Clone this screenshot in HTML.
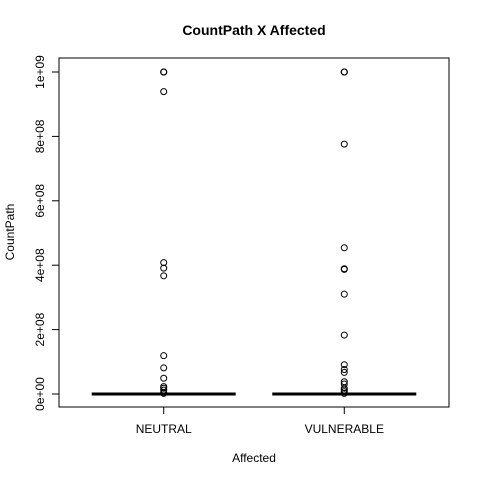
<!DOCTYPE html>
<html><head><meta charset="utf-8"><style>
body{margin:0;background:#fff}
svg{display:block;font-family:"Liberation Sans",Arial,sans-serif}
</style></head><body>
<svg id="chart" width="480" height="480">
<text x="254" y="35" text-anchor="middle" font-size="14" font-weight="bold">CountPath X Affected</text>
<text x="254" y="462" text-anchor="middle" font-size="12">Affected</text>
<text transform="translate(14,232) rotate(-90)" text-anchor="middle" font-size="12">CountPath</text>
<rect x="59" y="58" width="390" height="349" fill="none" stroke="#000" stroke-width="1"/>
<g id="yaxis"></g>
<g id="xaxis"></g>
<g id="marks"></g>
</svg>
<script>
const categories=["NEUTRAL","VULNERABLE"];
const medians=[0,0];
const yTicks=[0,2e8,4e8,6e8,8e8,1e9];
const yTickLabels=["0e+00","2e+08","4e+08","6e+08","8e+08","1e+09"];
const outliersNeutral=[1e9,1e9,1e9,0.939e9,0.408e9,0.391e9,0.367e9,0.119e9,0.081e9,0.049e9,0.023e9,0.018e9,0.012e9,0.005e9,0.002e9];
const outliersVulnerable=[1e9,1e9,1e9,0.776e9,0.454e9,0.389e9,0.387e9,0.31e9,0.183e9,0.091e9,0.076e9,0.067e9,0.038e9,0.031e9,0.018e9,0.012e9,0.007e9,0.002e9];
const outliers=[outliersNeutral,outliersVulnerable];
const NS="http://www.w3.org/2000/svg";
const y=v=>394-v/1e9*322;
const x=i=>59+(i+1-0.42)/2.16*390;
function mk(t,a,p){const e=document.createElementNS(NS,t);for(const k in a)e.setAttribute(k,a[k]);p.appendChild(e);return e;}
const ya=document.getElementById('yaxis'),xa=document.getElementById('xaxis'),m=document.getElementById('marks');
mk('line',{x1:59,x2:59,y1:y(0),y2:y(1e9),stroke:'#000'},ya);
yTicks.forEach((v,i)=>{
 const t=mk('line',{x1:52,x2:59,y1:y(v),y2:y(v),stroke:'#000'},ya);
 
 
 const l=mk('text',{transform:`translate(44,${y(v)}) rotate(-90)`,'text-anchor':'middle','font-size':'12'},ya);
 l.textContent=yTickLabels[i];
 
 
});
mk('line',{x1:x(0),x2:x(1),y1:407,y2:407,stroke:'#000'},xa);
categories.forEach((c,i)=>{
 const t=mk('line',{x1:x(i),x2:x(i),y1:407,y2:414,stroke:'#000'},xa);
 
 
 const l=mk('text',{x:x(i),y:433,'text-anchor':'middle','font-size':'12'},xa);
 l.textContent=c;
 
 
 const med=mk('line',{x1:x(i)-72,x2:x(i)+72,y1:y(medians[i]),y2:y(medians[i]),stroke:'#000','stroke-width':3},m);
 
 
 outliers[i].forEach(v=>{
  const p=mk('circle',{cx:x(i),cy:y(v),r:3,fill:'none',stroke:'#000'},m);
  
  
 });
});
</script>
</body></html>
